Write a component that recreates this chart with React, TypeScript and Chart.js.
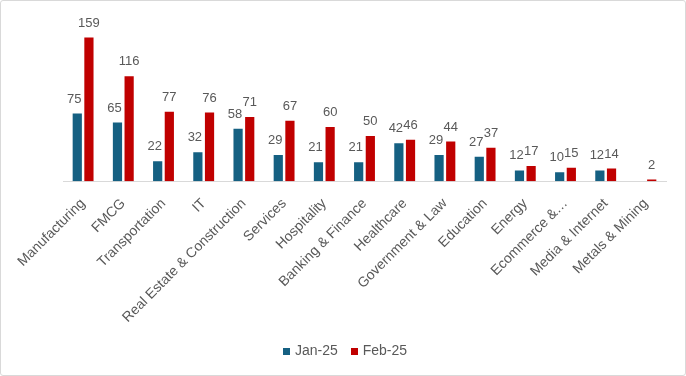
import React, { useEffect, useRef } from "react";
import { Chart, registerables } from "chart.js";

Chart.register(...registerables);

const categories = [
  "Manufacturing",
  "FMCG",
  "Transportation",
  "IT",
  "Real Estate & Construction",
  "Services",
  "Hospitality",
  "Banking & Finance",
  "Healthcare",
  "Government & Law",
  "Education",
  "Energy",
  "Ecommerce &…",
  "Media & Internet",
  "Metals & Mining",
];

const jan25: (number | null)[] = [75, 65, 22, 32, 58, 29, 21, 21, 42, 29, 27, 12, 10, 12, null];
const feb25: (number | null)[] = [159, 116, 77, 76, 71, 67, 60, 50, 46, 44, 37, 17, 15, 14, 2];

const seriesNames = ["Jan-25", "Feb-25"];
const seriesColors = ["#156082", "#C00000"];

const FONT = "'Liberation Sans', Arial, sans-serif";
const TEXT = "#595959";

const dataLabels = {
  id: "dataLabels",
  afterDatasetsDraw(chart: any) {
    const ctx = chart.ctx;
    ctx.save();
    ctx.font = `13px ${FONT}`;
    ctx.fillStyle = TEXT;
    ctx.textAlign = "center";
    ctx.textBaseline = "bottom";
    chart.data.datasets.forEach((ds: any, i: number) => {
      const meta = chart.getDatasetMeta(i);
      meta.data.forEach((bar: any, j: number) => {
        const v = ds.data[j];
        if (v == null) return;
        const dx = i === 0 ? -3 : 0;
        ctx.fillText(String(v), bar.x + dx, bar.y - 8);
      });
    });
    ctx.restore();
  },
};

const customLegend = {
  id: "customLegend",
  afterDraw(chart: any) {
    const ctx = chart.ctx;
    ctx.save();
    ctx.font = `14px ${FONT}`;
    ctx.textBaseline = "middle";
    ctx.textAlign = "left";
    const box = 7;
    const gapText = 5;
    const gapItem = 13;
    const items = chart.data.datasets.map((ds: any) => ({
      text: ds.label,
      color: ds.backgroundColor,
      w: ctx.measureText(ds.label).width,
    }));
    let total = 0;
    items.forEach((it: any, k: number) => {
      total += box + gapText + it.w + (k < items.length - 1 ? gapItem : 0);
    });
    let x = chart.width / 2 + 2 - total / 2;
    const cy = 350;
    items.forEach((it: any) => {
      ctx.fillStyle = it.color;
      ctx.fillRect(Math.round(x), Math.round(cy - box / 2), box, box);
      ctx.fillStyle = TEXT;
      ctx.fillText(it.text, x + box + gapText, cy + 0.5);
      x += box + gapText + it.w + gapItem;
    });
    ctx.restore();
  },
};

export default function App() {
  const ref = useRef<HTMLCanvasElement>(null);
  useEffect(() => {
    document.body.style.margin = "0";
    const chart = new Chart(ref.current!, {
      type: "bar",
      data: {
        labels: categories,
        datasets: [
          {
            label: seriesNames[0],
            data: jan25,
            backgroundColor: seriesColors[0],
            categoryPercentage: 0.58,
            barPercentage: 0.79,
          },
          {
            label: seriesNames[1],
            data: feb25,
            backgroundColor: seriesColors[1],
            categoryPercentage: 0.58,
            barPercentage: 0.79,
          },
        ],
      },
      options: {
        responsive: false,
        animation: false,
        layout: { padding: { top: 22, left: 62, right: 19, bottom: 43 } },
        plugins: {
          legend: { display: false },
          tooltip: { enabled: false },
        },
        scales: {
          x: {
            grid: { display: false },
            border: { color: "#d9d9d9", width: 1 },
            ticks: {
              color: TEXT,
              font: { size: 14, family: FONT },
              minRotation: 45,
              maxRotation: 45,
              autoSkip: false,
              padding: 6,
            },
          },
          y: { display: false, min: 0, max: 175 },
        },
      },
      plugins: [dataLabels, customLegend],
    });
    return () => chart.destroy();
  }, []);
  return (
    <div
      style={{
        position: "fixed",
        left: 0,
        top: 0,
        width: 686,
        height: 376,
        boxSizing: "border-box",
        border: "1px solid #d9d9d9",
        borderRadius: 3,
        background: "#fff",
        overflow: "hidden",
      }}
    >
      <canvas ref={ref} width={684} height={374} style={{ display: "block" }} />
    </div>
  );
}
